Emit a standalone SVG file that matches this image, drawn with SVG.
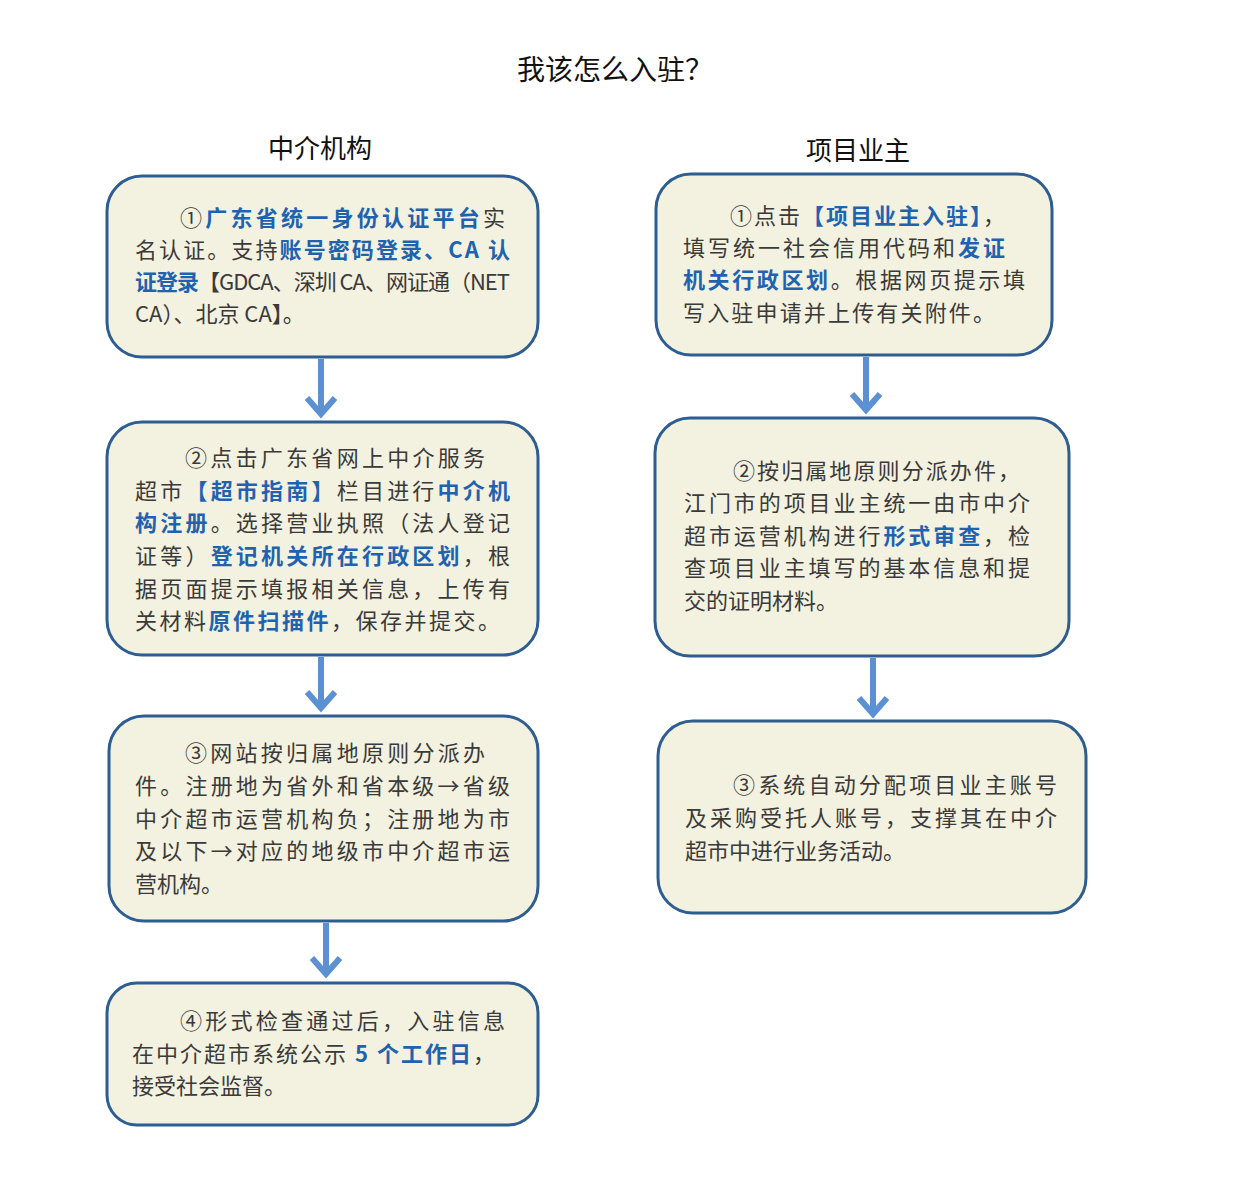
<svg xmlns="http://www.w3.org/2000/svg" width="1239" height="1189" viewBox="0 0 1239 1189">
<defs>
<style>
.box{fill:#f3f1e0;stroke:#2e5d91;stroke-width:3}
.t{font-family:"Noto Sans CJK SC","Liberation Sans",sans-serif;font-size:22px;fill:#3a3a3a}
.b{fill:#1f63b0;font-weight:bold}
.h{font-family:"Noto Sans CJK SC","Liberation Sans",sans-serif;fill:#111;text-anchor:middle}
.ar{stroke:#5b90d2;stroke-width:6;fill:none}
</style>
</defs>
<rect width="1239" height="1189" fill="#fff"/>
<text class="h" x="615" y="80" font-size="28">我该怎么入驻？</text>
<text class="h" x="320" y="158" font-size="26">中介机构</text>
<text class="h" x="858" y="160" font-size="26">项目业主</text>
<g id="connectors">
<path class="ar" d="M321 359V414M307 398L321 414L335 398"/>
<path class="ar" d="M321 657V708M307 692L321 708L335 692"/>
<path class="ar" d="M326 923V974M312 958L326 974L340 958"/>
<path class="ar" d="M866 357V410M852 394L866 410L880 394"/>
<path class="ar" d="M873 658V714M859 698L873 714L887 698"/>
</g>
<g id="l1">
<rect class="box" x="107" y="176" width="431" height="181" rx="35"/>
<text class="t" x="180" y="226" textLength="325">①<tspan class="b">广东省统一身份认证平台</tspan>实</text>
<text class="t" x="135" y="258" textLength="375">名认证。支持<tspan class="b">账号密码登录、CA 认</tspan></text>
<text class="t" x="135" y="290" textLength="375"><tspan class="b">证登录</tspan>【GDCA、深圳 CA、网证通（NET</text>
<text class="t" x="135" y="322">CA）、北京 CA】。</text>
</g>
<g id="l2">
<rect class="box" x="107" y="422" width="431" height="233" rx="35"/>
<text class="t" x="185" y="466" textLength="300">②点击广东省网上中介服务</text>
<text class="t" x="135" y="499" textLength="375">超市<tspan class="b">【超市指南】</tspan>栏目进行<tspan class="b">中介机</tspan></text>
<text class="t" x="135" y="531" textLength="375"><tspan class="b">构注册</tspan>。选择营业执照（法人登记</text>
<text class="t" x="135" y="564" textLength="375">证等）<tspan class="b">登记机关所在行政区划</tspan>，根</text>
<text class="t" x="135" y="597" textLength="375">据页面提示填报相关信息，上传有</text>
<text class="t" x="135" y="629" textLength="365">关材料<tspan class="b">原件扫描件</tspan>，保存并提交。</text>
</g>
<g id="l3">
<rect class="box" x="109" y="716" width="429" height="205" rx="35"/>
<text class="t" x="185" y="761" textLength="300">③网站按归属地原则分派办</text>
<text class="t" x="135" y="794" textLength="375">件。注册地为省外和省本级→省级</text>
<text class="t" x="135" y="827" textLength="375">中介超市运营机构负；注册地为市</text>
<text class="t" x="135" y="859" textLength="375">及以下→对应的地级市中介超市运</text>
<text class="t" x="135" y="892">营机构。</text>
</g>
<g id="l4">
<rect class="box" x="107" y="983" width="431" height="142" rx="30"/>
<text class="t" x="180" y="1029" textLength="325">④形式检查通过后，入驻信息</text>
<text class="t" x="132" y="1062" textLength="363">在中介超市系统公示 <tspan class="b">5 个工作日</tspan>，</text>
<text class="t" x="132" y="1094">接受社会监督。</text>
</g>
<g id="r1">
<rect class="box" x="656" y="174" width="396" height="181" rx="35"/>
<text class="t" x="730" y="224" textLength="275">①点击<tspan class="b">【项目业主入驻】</tspan>，</text>
<text class="t" x="683" y="256" textLength="322">填写统一社会信用代码和<tspan class="b">发证</tspan></text>
<text class="t" x="683" y="288" textLength="342"><tspan class="b">机关行政区划</tspan>。根据网页提示填</text>
<text class="t" x="683" y="321" textLength="312">写入驻申请并上传有关附件。</text>
</g>
<g id="r2">
<rect class="box" x="655" y="418" width="414" height="238" rx="35"/>
<text class="t" x="733" y="479" textLength="287">②按归属地原则分派办件，</text>
<text class="t" x="684" y="511" textLength="346">江门市的项目业主统一由市中介</text>
<text class="t" x="684" y="544" textLength="346">超市运营机构进行<tspan class="b">形式审查</tspan>，检</text>
<text class="t" x="684" y="576" textLength="346">查项目业主填写的基本信息和提</text>
<text class="t" x="684" y="609">交的证明材料。</text>
</g>
<g id="r3">
<rect class="box" x="658" y="721" width="428" height="192" rx="35"/>
<text class="t" x="733" y="793" textLength="324">③系统自动分配项目业主账号</text>
<text class="t" x="685" y="826" textLength="372">及采购受托人账号，支撑其在中介</text>
<text class="t" x="685" y="859">超市中进行业务活动。</text>
</g>
</svg>
